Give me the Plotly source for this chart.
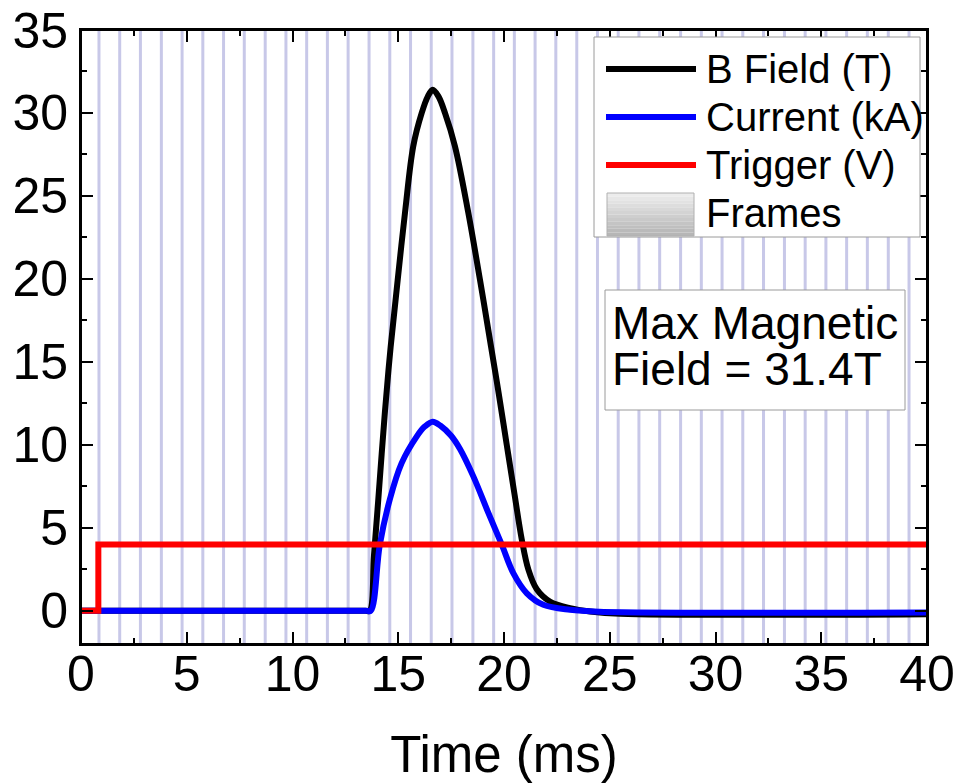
import plotly.graph_objects as go

# ---------------- data ----------------
trig_t = [0.0, 0.82, 0.82, 40.0]
trig_v = [0.0, 0.0, 4.0, 4.0]

b_t = [0.0, 13.45, 13.65, 13.85, 14.05, 14.37, 14.64, 14.97, 15.32, 15.71, 16.11, 16.4,
       16.63, 16.9, 17.21, 17.68, 18.31, 18.87, 19.39, 19.75, 20.13, 20.5, 20.84,
       21.15, 21.55, 22.17, 23.12, 24.07, 25.5, 40.0]
b_v = [0.0, 0.0, 0.0, 3.3, 6.6, 12.0, 15.9, 19.9, 24.0, 28.0, 30.0, 31.0,
       31.4, 31.0, 30.0, 28.0, 24.0, 19.9, 15.9, 13.1, 10.0, 7.0, 4.3,
       2.5, 1.3, 0.56, 0.16, -0.04, -0.18, -0.2]

i_t = [0.0, 13.5, 13.7, 14.13, 14.61, 15.16, 15.87, 16.25, 16.63, 17.0, 17.5, 17.92,
       18.55, 19.26, 19.89, 20.44, 21.07, 21.86, 23.12, 24.5, 40.0]
i_v = [0.0, 0.0, 0.0, 4.0, 6.75, 8.9, 10.5, 11.1, 11.4, 11.15, 10.55, 9.75,
       8.1, 5.9, 4.0, 2.27, 1.07, 0.36, 0.06, -0.05, -0.1]

frame_t = [0.85, 1.83, 2.81, 3.80, 4.78, 5.76, 6.74, 7.72, 8.71, 9.69,
           10.67, 11.65, 12.63, 13.62, 14.60, 15.58, 16.56, 17.54, 18.53, 19.51,
           20.49, 21.47, 22.45, 23.44, 24.42, 25.40, 26.38, 27.36, 28.35, 29.33,
           30.31, 31.29, 32.27, 33.26, 34.24, 35.22, 36.20, 37.18, 38.17, 39.15]

series_names = ["B Field (T)", "Current (kA)", "Trigger (V)", "Frames"]
series_colors = ["#000000", "#0000ff", "#ff0000"]
x_ticks = [0, 5, 10, 15, 20, 25, 30, 35, 40]
y_ticks = [0, 5, 10, 15, 20, 25, 30, 35]
max_label = ["Max Magnetic", "Field = 31.4T"]

# ---------------- layout geometry ----------------
# body margin is removed in the page, so figure pixels == window pixels
W, H = 960, 783
ML, MR, MT, MB = 81, 33, 30, 139
PW, PH = W - ML - MR, H - MT - MB
PAGE_L, PAGE_B = ML, H - MB  # plot area edges in window pixels
FONT = "Arial, Liberation Sans, sans-serif"


def px(xp):
    return (xp - PAGE_L) / PW


def py(yp):
    return (PAGE_B - yp) / PH


fig = go.Figure()
fig.add_trace(go.Scatter(x=b_t, y=b_v, mode="lines", name=series_names[0],
                         line=dict(color=series_colors[0], width=6, shape="spline", smoothing=1.0),
                         showlegend=False))
fig.add_trace(go.Scatter(x=i_t, y=i_v, mode="lines", name=series_names[1],
                         line=dict(color=series_colors[1], width=6, shape="spline", smoothing=1.0),
                         showlegend=False))
fig.add_trace(go.Scatter(x=trig_t, y=trig_v, mode="lines", name=series_names[2],
                         line=dict(color=series_colors[2], width=6),
                         showlegend=False))

shapes = []
for t in frame_t:
    shapes.append(dict(type="line", xref="x", yref="y domain", x0=t, x1=t, y0=0, y1=1,
                       line=dict(color="rgba(110,110,195,0.38)", width=3), layer="below"))

# plot frame (box around the plotting area)
shapes.append(dict(type="rect", xref="paper", yref="paper", x0=0, x1=1, y0=0, y1=1,
                   fillcolor="rgba(0,0,0,0)", line=dict(color="black", width=2), layer="above"))

# legend box
shapes.append(dict(type="rect", xref="paper", yref="paper", x0=px(594), x1=px(920),
                   y0=py(237), y1=py(37), fillcolor="white",
                   line=dict(color="#9a9a9a", width=1), layer="above"))
leg_y = [69, 117, 165, 213]
for k in range(3):
    shapes.append(dict(type="line", xref="paper", yref="paper", x0=px(606), x1=px(696),
                       y0=py(leg_y[k]), y1=py(leg_y[k]),
                       line=dict(color=series_colors[k], width=6), layer="above"))
# frames swatch (vertical gradient)
n_steps = 12
top, bot = 193, 236
for s in range(n_steps):
    g = int(236 - (236 - 182) * s / (n_steps - 1))
    y0p = top + (bot - top) * s / n_steps
    y1p = top + (bot - top) * (s + 1) / n_steps
    shapes.append(dict(type="rect", xref="paper", yref="paper", x0=px(607), x1=px(694),
                       y0=py(y1p), y1=py(y0p), fillcolor=f"rgb({g},{g},{g})",
                       line=dict(width=0), layer="above"))
shapes.append(dict(type="rect", xref="paper", yref="paper", x0=px(607), x1=px(694),
                   y0=py(bot), y1=py(top), fillcolor="rgba(0,0,0,0)",
                   line=dict(color="#b0b0b0", width=1), layer="above"))
# max field box
shapes.append(dict(type="rect", xref="paper", yref="paper", x0=px(605), x1=px(905),
                   y0=py(410), y1=py(290), fillcolor="white",
                   line=dict(color="#9a9a9a", width=1), layer="above"))

annotations = []
for k in range(4):
    annotations.append(dict(xref="paper", yref="paper", x=px(704), y=py(leg_y[k]),
                            text=series_names[k], showarrow=False, xanchor="left",
                            yanchor="middle", font=dict(family=FONT, size=40, color="black")))
ann_y = [323, 369]
for k in range(2):
    annotations.append(dict(xref="paper", yref="paper", x=px(610), y=py(ann_y[k]),
                            text=max_label[k], showarrow=False, xanchor="left",
                            yanchor="middle", font=dict(family=FONT, size=46, color="black")))

axis_common = dict(showline=True, linecolor="black", linewidth=2, mirror="ticks",
                   ticks="inside", ticklen=12, tickwidth=2, tickcolor="black",
                   showgrid=False, zeroline=False, automargin=False,
                   ticklabeloverflow="allow",
                   tickfont=dict(family=FONT, size=50, color="black"))

fig.update_layout(
    width=W, height=H,
    margin=dict(l=ML, r=MR, t=MT, b=MB),
    paper_bgcolor="white", plot_bgcolor="white",
    showlegend=False,
    shapes=shapes, annotations=annotations,
    xaxis=dict(range=[0, 40], tickvals=x_ticks,
               minor=dict(ticks="inside", ticklen=6, tickwidth=2, dtick=2.5, tickcolor="black"),
               title=dict(text="Time (ms)", font=dict(family=FONT, size=51, color="black"), standoff=38),
               ticklabelstandoff=-15, **axis_common),
    yaxis=dict(range=[-2, 35], tickvals=y_ticks,
               minor=dict(ticks="inside", ticklen=6, tickwidth=2, dtick=2.5, tickcolor="black"),
               ticklabelstandoff=1, **axis_common),
)

fig.write_html("out.html", config={"displayModeBar": False},
               post_script="document.body.style.margin='0px';")
